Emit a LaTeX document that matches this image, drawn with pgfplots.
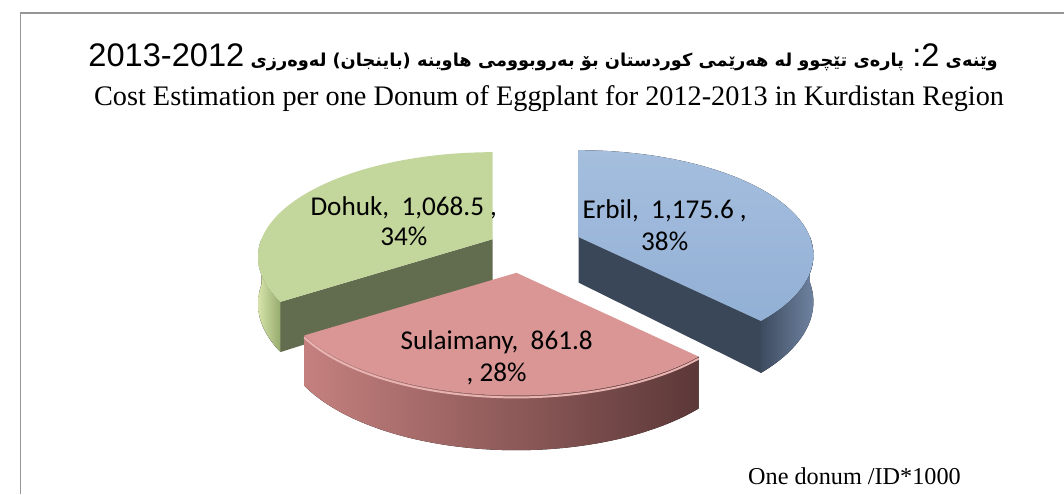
\documentclass[border=0pt]{standalone}
\usepackage{pgfplots}
\pgfplotsset{compat=1.18}
\usepackage{pgfplotstable}
\usepackage{fontspec}
\setmainfont{Liberation Serif}
\newfontfamily\calibri{Carlito}
\newfontfamily\arial{Liberation Sans}
\newfontfamily\arabicfont[Script=Arabic]{DejaVu Sans}
\TeXXeTstate=1

\definecolor{eTop}{RGB}{146,176,213}
\definecolor{eTopL}{RGB}{165,190,222}
\definecolor{eSide}{RGB}{58,71,89}
\definecolor{eWallA}{RGB}{62,76,96}
\definecolor{eWallB}{RGB}{110,130,160}
\definecolor{sTop}{RGB}{217,150,148}
\definecolor{sWallA}{RGB}{196,128,126}
\definecolor{sWallB}{RGB}{92,56,56}
\definecolor{sHi}{RGB}{232,180,178}
\definecolor{dTop}{RGB}{195,214,155}
\definecolor{dSide}{RGB}{98,108,78}
\definecolor{dWallA}{RGB}{214,228,170}
\definecolor{dWallB}{RGB}{150,170,110}
\definecolor{frame}{RGB}{150,150,150}

\pgfplotstableread{
region value
Erbil 1175.6
Sulaimany 861.8
Dohuk 1068.5
}\pietable

\tikzset{declare function={gg(\t)=1/(1+0.17*cos(\t));
  px(\t)=234*sin(\t)*gg(\t);
  py(\t)=-103*cos(\t)*gg(\t);
  dz(\t)=46*gg(\t);}}
% slice vertices (exploded)
\def\cxD{486}\def\cyD{242}
\def\cxE{573}\def\cyE{240}
\def\cxS{510}\def\cyS{276}

\begin{document}
\pgfplotstablegetelem{0}{value}\of\pietable\let\vE\pgfplotsretval
\pgfplotstablegetelem{1}{value}\of\pietable\let\vS\pgfplotsretval
\pgfplotstablegetelem{2}{value}\of\pietable\let\vD\pgfplotsretval
\pgfmathsetmacro\tot{\vE+\vS+\vD}
\pgfmathsetmacro\fE{\vE/\tot}
\pgfmathsetmacro\fS{\vS/\tot}
\pgfmathsetmacro\aE{360*\fE}
\pgfmathsetmacro\aS{\aE+360*\fS}
\begin{tikzpicture}
\useasboundingbox (0,0) rectangle (1064pt,500pt);
\begin{axis}[at={(0,0)},anchor=south west,width=1064pt,height=500pt,scale only axis,
  xmin=0,xmax=1064,ymin=0,ymax=500,y dir=reverse,hide axis,clip=false]
% frame
\draw[frame,line width=1.5pt] (8,500) -- (8,13) -- (1064,13);
% ---- Dohuk (green), angles aS..360
\fill[left color=dWallA,right color=dWallB] plot[domain=\aS:270,samples=30,variable=\t] ({\cxD+px(\t)},{\cyD+py(\t)}) -- plot[domain=270:\aS,samples=30,variable=\t] ({\cxD+px(\t)},{\cyD+py(\t)+dz(\t)}) -- cycle;
\fill[dSide] (\cxD,\cyD) -- ({\cxD+px(\aS)},{\cyD+py(\aS)}) -- ({\cxD+px(\aS)},{\cyD+py(\aS)+dz(\aS)}) -- (\cxD,\cyD+46) -- cycle;
\fill[dTop] (\cxD,\cyD) -- plot[domain=\aS:360,samples=60,variable=\t] ({\cxD+px(\t)},{\cyD+py(\t)}) -- cycle;
% ---- Erbil (blue), angles 0..aE
\fill[left color=eWallA,right color=eWallB] plot[domain=90:\aE,samples=30,variable=\t] ({\cxE+px(\t)},{\cyE+py(\t)}) -- plot[domain=\aE:90,samples=30,variable=\t] ({\cxE+px(\t)},{\cyE+py(\t)+dz(\t)}) -- cycle;
\fill[eSide] (\cxE,\cyE) -- ({\cxE+px(\aE)},{\cyE+py(\aE)}) -- ({\cxE+px(\aE)},{\cyE+py(\aE)+dz(\aE)}) -- (\cxE,\cyE+46) -- cycle;
\fill[top color=eTopL,bottom color=eTop] (\cxE,\cyE) -- plot[domain=0:\aE,samples=60,variable=\t] ({\cxE+px(\t)},{\cyE+py(\t)}) -- cycle;
% ---- Sulaimany (red), angles aE..aS
\fill[left color=sWallA,right color=sWallB] plot[domain=\aE:\aS,samples=60,variable=\t] ({\cxS+px(\t)},{\cyS+py(\t)}) -- plot[domain=\aS:\aE,samples=60,variable=\t] ({\cxS+px(\t)},{\cyS+py(\t)+dz(\t)}) -- cycle;
\draw[sHi,line width=2pt] plot[domain=\aE:\aS,samples=60,variable=\t] ({\cxS+px(\t)},{\cyS+py(\t)+2});
\fill[sTop] (\cxS,\cyS) -- plot[domain=\aE:\aS,samples=60,variable=\t] ({\cxS+px(\t)},{\cyS+py(\t)}) -- cycle;
% labels
\node[align=center,font=\calibri\fontsize{27.5}{30}\selectfont] at (396,224) {Dohuk,\ \ 1,068.5\ ,\\34\%};
\node[align=center,font=\calibri\fontsize{27.5}{32}\selectfont] at (660,228) {Erbil,\ \ 1,175.6\ ,\\38\%};
\node[align=center,font=\calibri\fontsize{27.5}{32}\selectfont] at (490,362) {Sulaimany,\ \ 861.8\\, 28\%};
% titles
\node at (537,58) {\arabicfont\bfseries\fontsize{18}{24}\selectfont\beginR وێنەی {\arial\mdseries\fontsize{33}{40}\selectfont\beginL2\endL\beginL:\endL} پارەی تێچوو لە هەرێمی کوردستان بۆ بەروبوومی هاوینە (باینجان) لەوەرزی {\arial\mdseries\fontsize{33}{40}\selectfont\beginL2012\endL-\beginL2013\endL}\endR};
\node[font=\fontsize{28.6}{34}\selectfont] at (543,100) {Cost Estimation per one Donum of Eggplant for 2012-2013 in Kurdistan Region};
\node[font=\fontsize{24.5}{28}\selectfont] at (852,482) {One donum /ID*1000};
\end{axis}
\end{tikzpicture}
\end{document}
